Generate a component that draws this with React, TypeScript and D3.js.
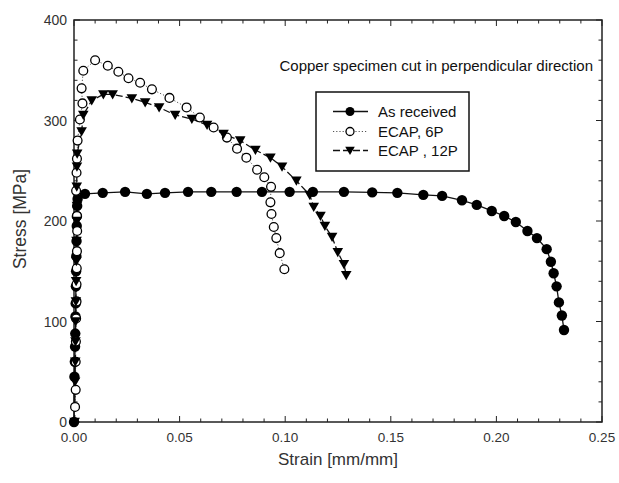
import React from "react";
import * as d3 from "d3";

const xTicks = [0, 0.05, 0.1, 0.15, 0.2, 0.25];
const xTickLabels = ["0.00", "0.05", "0.10", "0.15", "0.20", "0.25"];
const yTicks = [0, 100, 200, 300, 400];
const yTickLabels = ["0", "100", "200", "300", "400"];

const asRecStrain = [0, 0.0002, 0.0004, 0.0005, 0.0006, 0.0007, 0.0008, 0.0009, 0.001, 0.0011, 0.0012, 0.0013, 0.0014, 0.0015, 0.0017, 0.0052, 0.0136, 0.0242, 0.0345, 0.0431, 0.054, 0.065, 0.077, 0.089, 0.1021, 0.1131, 0.1278, 0.1412, 0.1531, 0.1654, 0.1743, 0.1837, 0.1907, 0.1978, 0.2037, 0.2092, 0.2147, 0.2192, 0.2238, 0.2258, 0.2271, 0.2285, 0.2296, 0.231, 0.232];
const asRecStress = [0, 45, 60, 75, 88, 105, 118, 135, 150, 165, 180, 195, 205, 215, 222, 227, 228, 229, 227, 228, 229, 229, 229, 229, 229, 229, 229, 228.5, 228, 226, 225, 220.6, 216, 210, 205, 199, 190, 183, 172, 159.5, 148, 135, 119, 106, 91.5];

const ecap6Strain = [0.0005, 0.0008, 0.0008, 0.0009, 0.001, 0.0012, 0.0012, 0.0013, 0.0014, 0.0015, 0.0014, 0.001, 0.0012, 0.0014, 0.0017, 0.0028, 0.004, 0.0036, 0.0044, 0.01, 0.016, 0.021, 0.0258, 0.0313, 0.0369, 0.0452, 0.0533, 0.0596, 0.0661, 0.0724, 0.0772, 0.0816, 0.0867, 0.0901, 0.0933, 0.093, 0.0935, 0.0946, 0.0958, 0.0974, 0.0996];
const ecap6Stress = [15, 32, 60, 80, 103, 120, 137, 153, 170, 190, 205, 230, 248, 262, 280, 301, 317, 332, 349.5, 360, 354.5, 348.5, 342, 337.6, 331, 322.5, 313, 303, 293, 283, 272, 263, 251, 243.5, 234, 218.6, 207, 194, 183, 168, 152];

const ecap12Strain = [0.0003, 0.0005, 0.0006, 0.0007, 0.0008, 0.0009, 0.001, 0.0011, 0.0012, 0.0013, 0.0014, 0.0013, 0.0014, 0.0015, 0.0036, 0.0044, 0.0084, 0.0139, 0.0183, 0.0274, 0.0337, 0.0403, 0.0479, 0.0558, 0.063, 0.0708, 0.0787, 0.0859, 0.093, 0.0985, 0.1053, 0.1116, 0.1135, 0.1167, 0.1188, 0.1222, 0.1249, 0.1278, 0.1289];
const ecap12Stress = [0, 40, 60, 80, 100, 120, 140, 160, 180, 200, 215, 234, 254, 267, 289, 305.5, 320, 326, 326, 322, 318, 313, 305.5, 301.5, 295.5, 286.6, 280, 270.6, 263, 254, 240, 226, 214, 205, 195, 184, 169, 157, 146];

const legendLabels = ["As received", "ECAP, 6P", "ECAP , 12P"];
const titleText = "Copper specimen cut in perpendicular direction";

const W = 619;
const H = 483;
const FONT = "'Liberation Sans', Arial, sans-serif";

export default function App() {
  const x = d3.scaleLinear().domain([0, 0.25]).range([74, 602]);
  const y = d3.scaleLinear().domain([0, 400]).range([422, 20]);
  const [x0, x1] = x.range();
  const [y0, y1] = y.range();

  const zip = (a: number[], b: number[]) => a.map((v, i) => [v, b[i]] as [number, number]);
  const sAs = zip(asRecStrain, asRecStress);
  const s6 = zip(ecap6Strain, ecap6Stress);
  const s12 = zip(ecap12Strain, ecap12Stress);

  const line = d3
    .line<[number, number]>()
    .x((d) => x(d[0]))
    .y((d) => y(d[1]));

  const xMinor = d3.range(0, 0.2501, 0.01);
  const yMinor = d3.range(0, 401, 20);

  const tri = (cx: number, cy: number, s = 5.3) =>
    `M${cx - s},${cy - s * 0.8}L${cx + s},${cy - s * 0.8}L${cx},${cy + s * 0.95}Z`;

  const isMajorX = (v: number) => xTicks.some((t) => Math.abs(t - v) < 1e-6);
  const isMajorY = (v: number) => yTicks.some((t) => Math.abs(t - v) < 1e-6);

  const legRows = [111.5, 131.5, 150.5];

  return (
    <svg width={W} height={H} style={{ position: "absolute", left: 0, top: 0, background: "#fff" }} fontFamily={FONT}>
      <rect width={W} height={H} fill="#fff" />
      {xMinor.map((v, i) => {
        const len = isMajorX(v) ? 6 : 3.5;
        return (
          <g key={"xt" + i} stroke="#222" strokeWidth={1}>
            <line x1={x(v)} x2={x(v)} y1={y0} y2={y0 - len} />
            <line x1={x(v)} x2={x(v)} y1={y1} y2={y1 + len} />
          </g>
        );
      })}
      {yMinor.map((v, i) => {
        const len = isMajorY(v) ? 6 : 3.5;
        return (
          <g key={"yt" + i} stroke="#222" strokeWidth={1}>
            <line x1={x0} x2={x0 + len} y1={y(v)} y2={y(v)} />
            <line x1={x1} x2={x1 - len} y1={y(v)} y2={y(v)} />
          </g>
        );
      })}
      <rect x={x0} y={y1} width={x1 - x0} height={y0 - y1} fill="none" stroke="#222" strokeWidth={1.5} />

      {xTicks.map((v, i) => (
        <text key={"xl" + i} x={x(v)} y={442} fontSize={13.5} textAnchor="middle" fill="#333">
          {xTickLabels[i]}
        </text>
      ))}
      {yTicks.map((v, i) => (
        <text key={"yl" + i} x={67} y={y(v) + 5} fontSize={14} textAnchor="end" fill="#333">
          {yTickLabels[i]}
        </text>
      ))}

      <text x={338} y={465} fontSize={17} textAnchor="middle" fill="#333">
        Strain [mm/mm]
      </text>
      <text transform="translate(26,219) rotate(-90)" fontSize={17.5} textAnchor="middle" fill="#333">
        Stress [MPa]
      </text>

      <path d={line(sAs) || ""} fill="none" stroke="#111" strokeWidth={1.3} />
      <path d={line(s6) || ""} fill="none" stroke="#555" strokeWidth={1} strokeDasharray="1.2,2" />
      <path d={line(s12) || ""} fill="none" stroke="#111" strokeWidth={1.3} strokeDasharray="7,3" />

      {sAs.map((d, i) => (
        <circle key={"a" + i} cx={x(d[0])} cy={y(d[1])} r={5.2} fill="#000" />
      ))}
      {s6.map((d, i) => (
        <circle key={"b" + i} cx={x(d[0])} cy={y(d[1])} r={4.4} fill="#fff" stroke="#000" strokeWidth={1.3} />
      ))}
      {s12.map((d, i) => (
        <path key={"c" + i} d={tri(x(d[0]), y(d[1]))} fill="#000" />
      ))}

      <text x={593} y={71} fontSize={15} textAnchor="end" fill="#111">
        {titleText}
      </text>

      <rect x={316} y={92} width={153} height={79} fill="#fff" stroke="#111" strokeWidth={1.5} />
      <line x1={333} x2={368} y1={legRows[0]} y2={legRows[0]} stroke="#111" strokeWidth={1.3} />
      <circle cx={350} cy={legRows[0]} r={4.5} fill="#000" />
      <line x1={333} x2={368} y1={legRows[1]} y2={legRows[1]} stroke="#555" strokeWidth={1} strokeDasharray="1.2,2" />
      <circle cx={350} cy={legRows[1]} r={4} fill="#fff" stroke="#000" strokeWidth={1.3} />
      <line x1={333} x2={368} y1={legRows[2]} y2={legRows[2]} stroke="#111" strokeWidth={1.3} strokeDasharray="7,3" />
      <path d={tri(350, legRows[2], 4.8)} fill="#000" />
      {legendLabels.map((t, i) => (
        <text key={"lg" + i} x={378} y={legRows[i] + 5} fontSize={15} fill="#111">
          {t}
        </text>
      ))}
    </svg>
  );
}
